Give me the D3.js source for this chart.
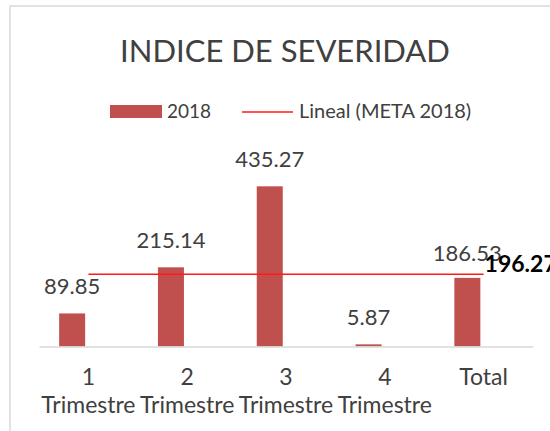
<!DOCTYPE html>
<html>
<head>
<meta charset="utf-8">
<script src="https://cdn.jsdelivr.net/npm/d3@7/dist/d3.min.js"></script>
<style>
  html, body { margin: 0; padding: 0; background: #fff; }
  svg { display: block; font-family: Lato, "Open Sans", sans-serif; }
</style>
</head>
<body>
<svg id="chart" width="550" height="431"></svg>
<script>
// Severity index per quarter and overall, with the 2018 target line
const categories = [["1", "Trimestre"], ["2", "Trimestre"], ["3", "Trimestre"], ["4", "Trimestre"], ["Total"]];
const categoryKeys = ["1", "2", "3", "4", "Total"];
const values2018 = [89.85, 215.14, 435.27, 5.87, 186.53];
const meta2018 = 196.27;
const seriesNames = ["2018", "META 2018"];
const title = "INDICE DE SEVERIDAD";

const svg = d3.select("#chart");
const textColor = "#404040";
const barColor = "#c0504d";
const lineColor = "#ff1a1a";
const gridColor = "#d9d9d9";

// chart frame
svg.append("path")
  .attr("d", "M10,431 V6 H550")
  .attr("fill", "none")
  .attr("stroke", gridColor)
  .attr("stroke-width", 1.5);

const baseY = 346.5;
const x0 = d3.scaleBand().domain(categoryKeys).range([39, 533]).padding(0);
const x1 = d3.scaleBand().domain(seriesNames).range([0, x0.bandwidth()])
  .paddingInner(0.2).paddingOuter(0.62);
const y = d3.scaleLinear().domain([0, 500]).range([baseY, baseY - 184]);

// title
svg.append("text")
  .attr("x", 285).attr("y", 62)
  .attr("text-anchor", "middle")
  .attr("font-size", 31)
  .attr("fill", textColor)
  .text(title);

// legend
const legend = svg.append("g");
legend.append("rect").attr("x", 110).attr("y", 105).attr("width", 52).attr("height", 13).attr("fill", barColor);
legend.append("text").attr("x", 167).attr("y", 118).attr("font-size", 19).attr("fill", textColor).text("2018");
legend.append("line").attr("x1", 242).attr("x2", 293).attr("y1", 112).attr("y2", 112)
  .attr("stroke", lineColor).attr("stroke-width", 1.5);
legend.append("text").attr("x", 299).attr("y", 118).attr("font-size", 20).attr("fill", textColor).text("Lineal (META 2018)");

// bars
const data = categoryKeys.map((k, i) => ({ key: k, value: values2018[i] }));
svg.append("g").selectAll("rect").data(data).join("rect")
  .attr("x", d => x0(d.key) + x1("2018"))
  .attr("y", d => y(d.value))
  .attr("width", x1.bandwidth())
  .attr("height", d => baseY - y(d.value))
  .attr("fill", barColor);

// category axis
const axis = d3.axisBottom(x0).tickSize(0).tickFormat("");
const axisG = svg.append("g").attr("transform", `translate(0,${baseY})`).call(axis);
axisG.select(".domain").attr("stroke", gridColor).attr("stroke-width", 1.5);

svg.append("g").selectAll("text").data(categories).join("text")
  .attr("text-anchor", "middle")
  .attr("font-size", 23)
  .attr("fill", textColor)
  .each(function (lines, i) {
    const t = d3.select(this);
    const cx = x0(categoryKeys[i]) + x0.bandwidth() / 2;
    lines.forEach((ln, j) => {
      t.append("tspan").attr("x", cx).attr("y", 385 + j * 28).text(ln);
    });
  });

// target line across the categories
const xc = k => x0(k) + x0.bandwidth() / 2;
svg.append("line")
  .attr("x1", xc(categoryKeys[0]))
  .attr("x2", xc(categoryKeys[categoryKeys.length - 1]))
  .attr("y1", y(meta2018)).attr("y2", y(meta2018))
  .attr("stroke", lineColor).attr("stroke-width", 1.5);

// value labels
svg.append("g").selectAll("text").data(data).join("text")
  .attr("x", d => x0(d.key) + x1("2018") + x1.bandwidth() / 2)
  .attr("y", d => y(d.value) - (d.key === "Total" ? 17 : 19))
  .attr("text-anchor", "middle")
  .attr("font-size", 22)
  .attr("fill", textColor)
  .text(d => d3.format(".2f")(d.value));

svg.append("text")
  .attr("x", xc(categoryKeys[categoryKeys.length - 1]) + 1)
  .attr("y", y(meta2018) - 2)
  .attr("font-size", 23)
  .attr("font-weight", "bold")
  .attr("fill", "#000")
  .text(d3.format(".2f")(meta2018));
</script>
</body>
</html>
